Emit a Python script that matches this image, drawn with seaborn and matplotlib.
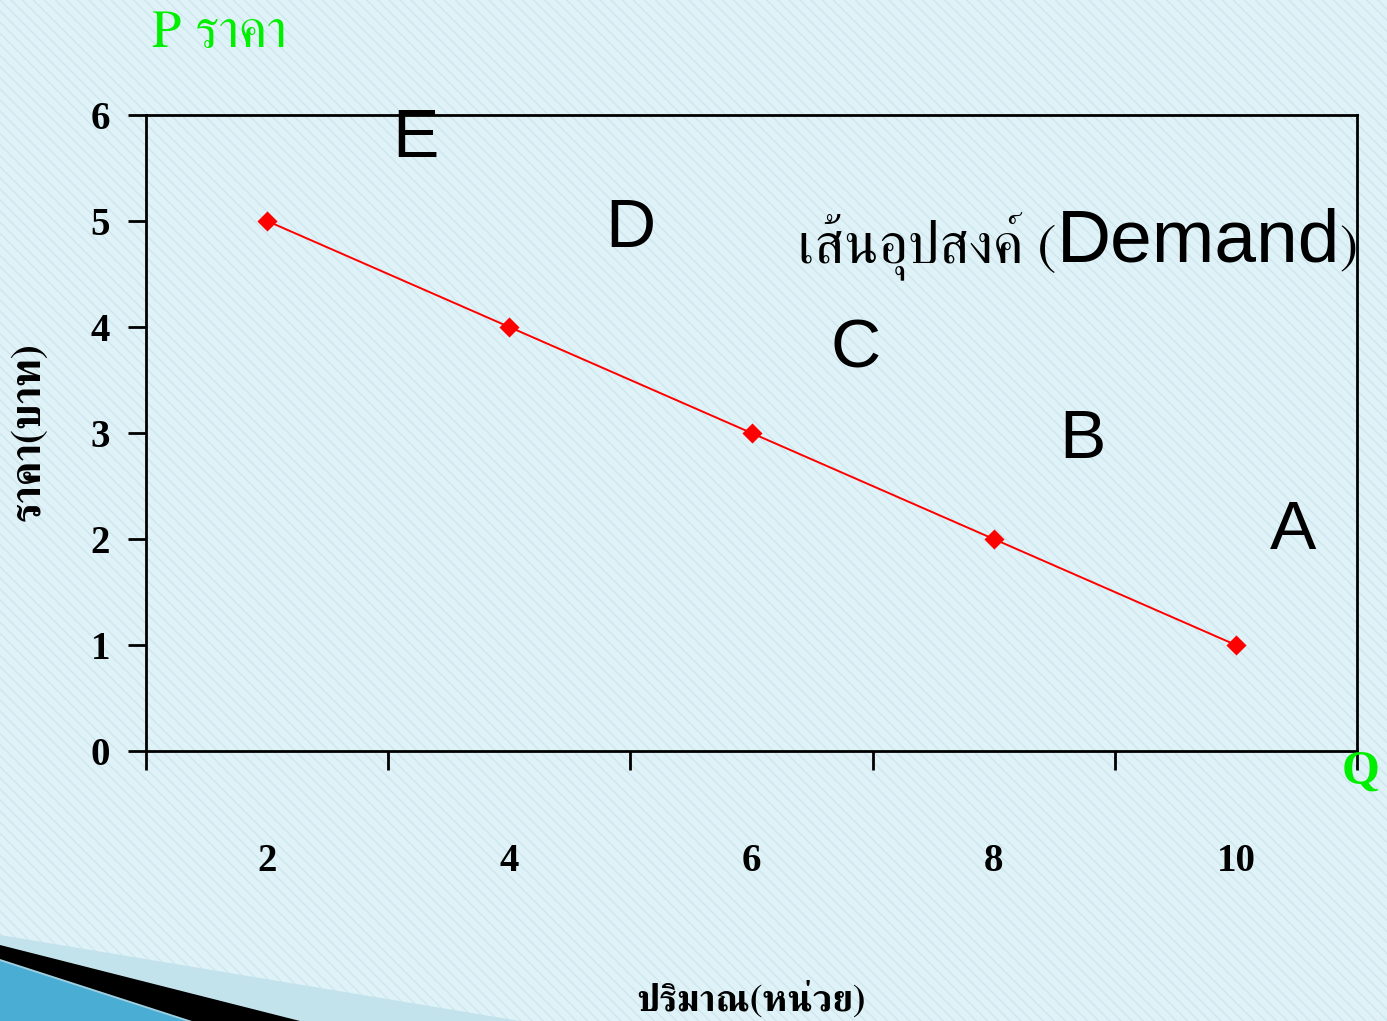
import matplotlib
matplotlib.use("Agg")
import matplotlib.pyplot as plt
import seaborn as sns
import pandas as pd
from matplotlib import font_manager
from matplotlib.ft2font import FT2Font
from matplotlib.patches import Rectangle, Polygon

# ---------------- data ----------------
quantity = ["2", "4", "6", "8", "10"]
price = [5, 4, 3, 2, 1]
y_ticks = [0, 1, 2, 3, 4, 5, 6]
point_labels = ["E", "D", "C", "B", "A"]

title_text = "P ราคา"
q_text = "Q"
ylabel_text = "ราคา(บาท)"
xlabel_text = "ปริมาณ(หน่วย)"
curve_thai = "เส้นอุปสงค์ ("
curve_en = "Demand"
curve_close = ")"

# --------------- fonts ----------------
def find_thai_font():
    found = []
    for f in font_manager.fontManager.ttflist:
        try:
            if 0x0E23 in FT2Font(f.fname).get_charmap():
                found.append(f)
        except Exception:
            pass
    if not found:
        return None
    def score(f):
        n = f.name.lower()
        s = 0
        if "serif" in n and "sans" not in n:
            s += 10
        if "looped" in n:
            s += 3
        return s
    return sorted(found, key=lambda f: -score(f))[0].name

thai_name = find_thai_font()
serif_family = ["Liberation Serif", "DejaVu Serif"]
thai_family = ([thai_name] if thai_name else []) + ["Liberation Serif", "DejaVu Sans"]
sans_family = ["Liberation Sans", "DejaVu Sans"]

sns.set_theme(style="white")
plt.rcParams["font.family"] = thai_family
plt.rcParams["hatch.linewidth"] = 1.0
for k in ("text.color", "axes.labelcolor", "xtick.color", "ytick.color"):
    plt.rcParams[k] = "black"

W, H = 1387, 1021
fig = plt.figure(figsize=(W / 100, H / 100), dpi=100)
bg = "#dff2f7"
fig.patch.set_facecolor(bg)

def fx(px):
    return px / W

def fy(py):
    return 1 - py / H

# background hatch
fig.add_artist(Rectangle((0, 0), 1, 1, transform=fig.transFigure,
                         facecolor="none", edgecolor="#cee7ee", linewidth=0,
                         hatch="\\\\\\", zorder=0))

# decorative swoosh bottom-left
fig.add_artist(Polygon([(fx(0), fy(935)), (fx(520), fy(1021)), (fx(0), fy(1021))],
                       closed=True, transform=fig.transFigure,
                       facecolor="#c3e3ec", edgecolor="none", zorder=0.5))
fig.add_artist(Polygon([(fx(0), fy(945)), (fx(300), fy(1021)), (fx(0), fy(1021))],
                       closed=True, transform=fig.transFigure,
                       facecolor="black", edgecolor="none", zorder=0.6))
fig.add_artist(Polygon([(fx(0), fy(959)), (fx(192), fy(1021)), (fx(0), fy(1021))],
                       closed=True, transform=fig.transFigure,
                       facecolor="#9fd0e2", edgecolor="none", zorder=0.7))
fig.add_artist(Polygon([(fx(0), fy(961)), (fx(186), fy(1021)), (fx(0), fy(1021))],
                       closed=True, transform=fig.transFigure,
                       facecolor="#4aaed4", edgecolor="none", zorder=0.8))

# --------------- axes -----------------
left, right, top, bottom = 146, 1357, 115, 751
ax = fig.add_axes([fx(left), fy(bottom), fx(right - left), (bottom - top) / H])
ax.set_facecolor("none")

df = pd.DataFrame({"quantity": quantity, "price": price})
sns.pointplot(data=df, x="quantity", y="price", order=quantity, color="#ff0000",
              markers="D", markersize=9, linewidth=1.4, errorbar=None, ax=ax)

ax.set_xlim(-0.5, len(quantity) - 0.5)
ax.set_ylim(y_ticks[0], y_ticks[-1])

for s in ax.spines.values():
    s.set_visible(True)
    s.set_color("black")
    s.set_linewidth(2)

# x: tick marks at category boundaries, labels at centers
ax.set_xticks([i - 0.5 for i in range(len(quantity) + 1)])
ax.set_xticklabels([])
ax.set_xticks(range(len(quantity)), minor=True)
ax.set_xticklabels(quantity, minor=True, fontsize=28, fontweight="bold",
                   family=serif_family)
ax.tick_params(axis="x", which="major", direction="out", length=14, width=2,
               color="black", bottom=True)
ax.tick_params(axis="x", which="minor", length=0, pad=66, bottom=True)

ax.set_yticks(y_ticks)
ax.set_yticklabels([str(v) for v in y_ticks], fontsize=28, fontweight="bold",
                   family=serif_family)
ax.tick_params(axis="y", direction="out", length=13, width=2, color="black",
               left=True, pad=13)

ax.set_xlabel(xlabel_text, fontsize=27, fontweight="bold", family=thai_family)
ax.xaxis.label.set_va("center")
ax.xaxis.set_label_coords(0.5, (bottom - 1000) / (bottom - top))
ax.set_ylabel(ylabel_text, fontsize=30, fontweight="bold", family=thai_family)
ax.yaxis.label.set_va("center")
ax.yaxis.set_label_coords((30 - left) / (right - left), (bottom - 432) / (bottom - top))

# --------------- annotations ---------------
fig.text(fx(152), fy(47), title_text, color="#00ee00", fontsize=38,
         family=thai_family, ha="left", va="baseline")
fig.text(fx(1342), fy(784), q_text, color="#00ee00", fontsize=35,
         fontweight="bold", family=serif_family, ha="left", va="baseline")

letter_pos = [(415, 157), (630, 247), (856, 367), (1082, 458), (1293, 549)]
for lab, (px, py) in zip(point_labels, letter_pos):
    fig.text(fx(px), fy(py), lab, fontsize=50, family=sans_family,
             ha="center", va="baseline", color="black")

fig.text(fx(1056), fy(262), curve_thai, fontsize=41, family=thai_family,
         ha="right", va="baseline")
fig.text(fx(1057), fy(262), curve_en, fontsize=54, family=sans_family,
         ha="left", va="baseline")
fig.text(fx(1339), fy(262), curve_close, fontsize=39, family=thai_family,
         ha="left", va="baseline")

fig.savefig("out.png", dpi=100, facecolor=fig.get_facecolor())
